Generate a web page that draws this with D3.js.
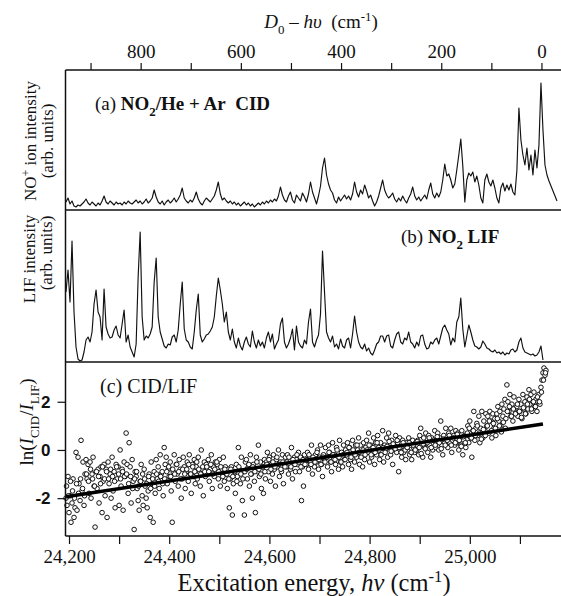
<!DOCTYPE html>
<html>
<head>
<meta charset="utf-8">
<script src="https://cdn.jsdelivr.net/npm/d3@7"></script>
<style>
  body { margin: 0; background: #fff; }
  svg { display: block; }
  text { font-family: "Liberation Serif", "Times New Roman", serif; fill: #111; }
</style>
</head>
<body>
<svg id="chart" width="561" height="596"></svg>
<script>
// dissociation limit, cm-1 (top axis is D0 - hv)
const D0 = 25143;

// (a) NO+ ion signal from CID, sampled every 4 cm-1 from 24194 cm-1
const cidStart = 24194, cidStep = 4;
const cid = [
  8,12,6,9,4,3,5,4,6,8, 11,7,5,8,6,4,7,5,9,14, 8,6,9,7,5,8,6,7,5,8, 6,9,7,
  6,8,10,7,9,6,8,11,7,9, 12,20,13,8,6,9,5,8,10,7, 9,12,8,11,15,22,12,9,7,10, 8,12,18,11,7,5,9,12,10,8, 11,14,20,28,16,10,12,9,
  7,9,6,8,5,7,4,6,8,5, 7,4,6,3,5,7,5,8,6,9, 7,10,8,11,9,14,23,15,10,8, 14,18,10,7,15,12,9,17,13,8, 16,28,18,12,6,14,24,42,52,35, 26,20,
  17,10,7,13,9,12,15,11,14,10, 16,28,18,13,20,16,25,19,12,15, 9,4,8,14,22,30,20,15,12,
  14,17,11,8,12,9,14,10,7,12, 16,23,14,10,13,9,12,15,11,20, 27,16,12,17,13,18,30,46,34,36, 30,22,26,40,55,71,44,8,30,37,
  34,38,28,34,25,12,7,30,36,28, 24,30,22,12,7,22,27,19,25,20, 26,18,15,
  40,102,70,55,45,62,40,55,35,60, 42,65,127,80,45,35,29,24,19,14, 9
];

// (b) LIF signal, sampled every 4 cm-1 from 24194 cm-1
const lifStart = 24194, lifStep = 4;
const lif = [
  70,92,60,121,50,15,3,1,2,10,
  22,25,20,30,58,72,50,45,22,73,
  35,28,24,25,32,36,27,24,38,52,
  20,27,15,10,5,18,85,130,45,22,
  26,24,28,35,80,104,45,30,23,16,
  14,18,17,25,27,20,32,58,80,33,
  22,20,15,13,30,52,68,27,20,23,
  27,28,31,35,45,66,84,72,58,40,
  50,30,22,33,20,14,24,16,12,20,
  25,18,15,31,20,14,22,16,20,14,
  24,30,20,28,13,18,22,38,44,20,
  14,18,24,33,12,36,20,16,14,22,
  18,40,53,20,15,22,27,48,111,70,
  30,24,20,26,15,18,13,23,16,14,
  22,24,14,28,46,30,20,15,13,18,
  11,14,9,7,12,18,20,26,26,20,
  26,27,16,14,22,28,30,20,18,24,
  22,30,20,18,14,20,16,26,27,18,
  13,14,20,18,22,24,18,26,34,37,
  32,28,17,24,20,40,45,64,33,15,
  26,37,30,22,16,15,13,15,21,18,
  14,13,11,10,12,9,10,8,10,7,
  9,8,12,13,10,12,20,24,14,10,
  9,8,7,8,6,7,10,16,2
];

// (c) ln(I_CID / I_LIF), one point every 2 cm-1 from 24194 cm-1
const ratioStart = 24194, ratioStep = 2;
const ratio = [
  -2.0,-2.3,-1.1,-2.6,-1.9,-3.0,-2.2,-1.2,-2.8,-2.4,
  -0.1,-2.5,-0.3,-1.4,-2.1,0.4,-1.7,-0.5,-2.3,-1.0,
  -0.4,-1.2,-0.6,-1.8,-0.5,-2.0,-1.0,-0.3,-1.5,-3.2,
  -0.9,-1.6,-0.8,-2.2,-1.1,-0.7,-2.6,-1.3,-0.6,-1.9,
  -0.8,-2.8,-0.5,-1.4,-1.0,-2.0,-0.3,-1.7,-0.9,-2.4,
  -0.6,-1.2,-0.7,-2.3,0.0,-1.5,-0.8,-2.5,-0.5,-1.1,
  0.7,-0.6,-1.8,0.3,-0.7,-2.2,-0.4,-1.3,-3.3,-0.9,
  -1.1,-1.6,-2.1,-2.5,-1.3,-0.6,-1.9,-2.3,-0.8,-1.5,
  -2.0,-2.4,-1.7,-1.0,-2.8,-0.5,-1.4,-3.0,-0.9,-1.8,
  -0.4,-1.2,-0.7,-1.6,-0.2,-1.0,-0.9,-1.9,0.1,-0.6,
  -0.3,-1.4,-0.8,-1.1,-0.5,-1.7,-3.0,-0.9,-0.2,-1.3,
  -0.6,-1.0,-1.5,-0.4,-0.8,-2.0,-1.2,-0.3,-0.7,-1.6,
  -0.9,-0.5,-1.3,-0.2,-1.0,-1.8,-0.6,-1.1,-0.4,-1.4,
  -0.7,-1.2,-0.3,-0.9,-1.5,0.0,-0.8,-1.9,-0.5,-1.1,
  -0.6,-1.0,-0.4,-1.3,-0.8,-0.2,-1.6,-0.7,-1.1,-0.5,
  -0.9,-0.6,-1.2,-0.4,-1.5,-0.8,-1.0,-0.3,-1.3,-0.7,
  -1.0,-1.6,-0.8,-2.4,-1.2,-0.7,-2.7,-1.4,-0.9,-1.8,
  -0.6,-1.1,0.1,-0.8,-1.4,-0.3,-2.1,-0.9,-2.7,-0.5,
  -0.4,-1.2,-0.7,-1.5,-0.2,-1.0,-2.0,-0.6,-1.3,-2.6,
  -0.3,-0.9,0.2,-1.1,-0.5,-1.6,-0.7,-1.8,-0.4,-1.2,
  -0.5,-0.1,-0.9,-0.3,-1.3,-0.6,-1.0,-0.2,-0.8,-1.5,
  -0.4,-0.7,0.0,-1.1,-0.5,-0.9,-0.2,-1.4,-0.6,-0.3,
  -0.7,-0.2,-1.0,-0.4,-0.8,0.1,-1.2,-0.5,-0.3,-0.9,
  -0.4,-0.6,-0.1,-0.9,-0.3,-2.1,-0.7,-1.5,-0.2,-0.5,
  -0.6,-0.1,-0.8,-0.3,-0.5,0.2,-1.0,-0.4,-0.7,-0.2,
  -0.5,0.0,-0.8,-0.3,0.2,-0.6,-1.1,-0.2,-0.4,0.1,
  -0.3,-0.7,0.2,-0.1,-0.5,-0.9,0.3,-0.4,-0.2,-0.6,
  0.1,-0.3,-0.8,0.4,-0.5,-0.1,-0.7,0.2,-0.4,0.0,
  -0.2,0.3,-0.6,0.1,-0.4,-0.8,0.4,-0.1,-0.5,0.2,
  -0.3,0.0,0.5,-0.6,0.2,-0.2,-0.7,0.3,-0.4,0.1,
  0.4,-0.1,0.7,-0.5,0.2,-0.3,0.0,0.5,-0.6,0.3,
  -0.2,0.6,0.1,-0.4,0.3,-0.1,0.8,-0.5,0.2,0.0,
  0.5,-0.3,0.7,0.1,-0.2,0.4,-0.6,0.2,0.0,0.6,
  -0.1,0.3,-0.9,0.5,0.1,-0.3,0.4,-0.1,0.2,-0.4,
  0.3,0.0,0.5,-0.2,0.2,-0.4,0.4,0.1,-0.1,0.3,
  0.0,0.4,-0.2,0.6,0.9,0.2,-0.3,0.5,0.1,0.7,
  0.3,-0.1,0.6,0.2,-0.3,0.5,0.0,0.4,0.8,0.1,
  0.4,0.7,0.0,0.5,1.2,0.2,-0.2,0.6,0.3,0.9,
  0.5,0.1,0.7,0.3,0.9,-0.1,0.4,0.6,0.2,0.8,
  0.3,0.7,0.0,0.5,0.2,0.8,-0.2,0.4,0.6,0.1,
  0.6,1.0,0.3,1.2,0.5,-0.3,0.8,1.6,0.4,0.9,
  1.1,0.6,1.4,0.3,0.9,1.6,0.5,1.2,0.8,1.5,
  1.0,1.4,0.7,1.6,1.2,0.5,1.5,0.9,1.3,0.6,
  1.5,1.8,1.2,1.6,1.0,1.9,1.4,1.7,2.1,1.3,
  2.7,2.0,1.6,2.3,1.4,1.9,1.2,2.2,1.7,1.5,
  1.8,1.4,2.1,1.6,1.9,1.3,2.3,1.7,2.0,1.5,
  2.2,1.7,2.5,1.9,2.3,1.6,2.0,2.4,1.8,2.1,
  1.6,2.0,2.3,1.9,2.6,2.9,3.2,3.4,3.1,3.3
];

// the dense core of the ratio band, one point every 4 cm-1 from 24195 cm-1
const coreStart = 24195, coreStep = 4;
const ratioCore = [
  -1.5,-1.9,-1.3,-1.7,-2.0,-1.4,-1.8,-1.2,-1.6,-1.9,
  -1.0,-1.3,-0.8,-1.2,-1.5,-0.9,-1.1,-1.4,-0.7,-1.2,
  -0.9,-1.2,-0.8,-1.1,-1.3,-0.7,-1.0,-1.2,-0.9,-1.1,
  -1.0,-1.4,-1.1,-1.6,-1.2,-0.9,-1.5,-1.3,-1.0,-1.2,
  -1.4,-1.1,-1.6,-1.2,-1.5,-1.0,-1.3,-1.1,-1.4,-1.2,
  -0.9,-0.7,-1.1,-0.8,-1.0,-0.6,-0.9,-1.2,-0.8,-1.0,
  -0.8,-0.6,-1.0,-0.7,-0.9,-0.5,-0.8,-1.0,-0.7,-0.9,
  -0.7,-0.9,-0.6,-1.0,-0.8,-0.5,-0.9,-0.7,-1.1,-0.8,
  -1.0,-1.2,-0.8,-1.1,-0.9,-1.3,-0.7,-1.0,-1.2,-0.9,
  -0.8,-0.6,-1.0,-0.7,-0.9,-0.5,-0.8,-1.0,-0.7,-0.9,
  -0.6,-0.4,-0.8,-0.5,-0.7,-0.3,-0.6,-0.8,-0.5,-0.7,
  -0.5,-0.3,-0.7,-0.4,-0.6,-0.2,-0.5,-0.7,-0.4,-0.6,
  -0.4,-0.2,-0.6,-0.3,-0.5,-0.1,-0.4,-0.6,-0.3,-0.5,
  -0.3,-0.1,-0.5,-0.2,-0.4,0.0,-0.3,-0.5,-0.2,-0.4,
  -0.1,0.1,-0.3,0.0,-0.2,0.2,-0.1,-0.3,0.0,-0.2,
  0.0,0.2,-0.2,0.1,-0.1,0.3,0.0,-0.2,0.1,-0.1,
  0.15,0.35,-0.05,0.25,0.05,0.4,0.1,-0.1,0.3,0.0,
  0.1,0.3,-0.1,0.2,0.0,0.35,0.1,-0.15,0.25,0.05,
  0.3,0.5,0.1,0.4,0.2,0.55,0.3,0.05,0.45,0.2,
  0.4,0.6,0.2,0.5,0.3,0.65,0.4,0.15,0.55,0.3,
  0.7,0.9,0.5,0.8,0.6,1.0,0.7,0.45,0.85,0.6,
  1.0,1.2,0.8,1.1,0.9,1.3,1.0,0.75,1.15,0.9,
  1.6,1.8,1.4,1.7,1.5,1.9,1.6,1.35,1.75,1.5,
  1.9,2.1,1.7,2.0,1.8,2.2,2.0,2.4,2.9,3.2
];

// linear fit through the ratio
const fitEnergy = [24194, 25146];
const fitRatio = [-1.94, 1.08];

// ticks
const energyLabelled = [24200, 24400, 24600, 24800, 25000];
const energyMinor = [24300, 24500, 24700, 24900, 25100];
const topLabelled = [0, 200, 400, 600, 800];
const topMinor = [100, 300, 500, 700, 900];
const ratioTicks = [-2, 0, 2];

const svg = d3.select('#chart');

const plotLeft = 65.5, plotRight = 561;
const yTopLine = 70, ySepAB = 210, ySepBC = 362, yBottomLine = 536;

const x = d3.scaleLinear().domain([24193, 25182]).range([plotLeft, plotRight]);
const xTop = d3.scaleLinear().domain([D0 - 24193, D0 - 25182]).range([plotLeft, plotRight]);
const yA = d3.scaleLinear().domain([0, 140]).range([ySepAB, yTopLine]);
const yB = d3.scaleLinear().domain([0, 152]).range([ySepBC, ySepAB]);
const yC = d3.scaleLinear().domain([-3.57, 3.65]).range([yBottomLine, ySepBC]);

// rich text helper: parts = [{t, i, b, sub, sup}]
function rich(g, parts, size) {
  const t = g.append('text').attr('font-size', size);
  let shift = 0;
  parts.forEach(p => {
    let target = 0;
    if (p.sub) target = size * 0.3;
    if (p.sup) target = -size * 0.38;
    const s = t.append('tspan').text(p.t).attr('dy', target - shift);
    shift = target;
    if (p.sub || p.sup) s.attr('font-size', size * 0.68);
    if (p.i) s.attr('font-style', 'italic');
    if (p.b) s.attr('font-weight', 'bold');
  });
  return t;
}

// traces
const lineA = d3.line().x((d, i) => x(cidStart + i * cidStep)).y(d => yA(d));
const lineB = d3.line().x((d, i) => x(lifStart + i * lifStep)).y(d => yB(d));

svg.append('path').datum(cid).attr('d', lineA)
  .attr('fill', 'none').attr('stroke', '#111').attr('stroke-width', 1.15).attr('stroke-linejoin', 'round');
svg.append('path').datum(lif).attr('d', lineB)
  .attr('fill', 'none').attr('stroke', '#111').attr('stroke-width', 1.15).attr('stroke-linejoin', 'round');

// scatter + fit
const pts = ratio.map((v, i) => ({e: ratioStart + i * ratioStep, v}))
  .concat(ratioCore.map((v, i) => ({e: coreStart + i * coreStep, v})));

svg.append('g').selectAll('circle').data(pts).join('circle')
  .attr('cx', d => x(d.e))
  .attr('cy', d => yC(d.v))
  .attr('r', 2.3)
  .attr('fill', '#fff').attr('stroke', '#111').attr('stroke-width', 1);

svg.append('line')
  .attr('x1', x(fitEnergy[0])).attr('x2', x(fitEnergy[1]))
  .attr('y1', yC(fitRatio[0])).attr('y2', yC(fitRatio[1]))
  .attr('stroke', '#000').attr('stroke-width', 3.5);

// frame lines
const frame = svg.append('g').attr('stroke', '#111').attr('stroke-width', 1.5);
[yTopLine, ySepAB, ySepBC, yBottomLine].forEach(yy => {
  frame.append('line').attr('x1', plotLeft).attr('x2', plotRight).attr('y1', yy).attr('y2', yy);
});
frame.append('line').attr('x1', plotLeft).attr('x2', plotLeft).attr('y1', yTopLine).attr('y2', yBottomLine);

// axes
function styleAxis(g, size, family) {
  g.select('.domain').remove();
  g.selectAll('.tick line').attr('stroke', '#111').attr('stroke-width', 1.2);
  g.selectAll('.tick text').attr('font-size', size).attr('fill', '#111')
    .style('font-family', family);
}

const topAxis = svg.append('g').attr('transform', `translate(0,${yTopLine})`)
  .call(d3.axisTop(xTop).tickValues(topLabelled.concat(topMinor)).tickSize(7).tickPadding(5)
    .tickFormat(d => topLabelled.includes(d) ? d : ''));
styleAxis(topAxis, 19, '"Liberation Serif", serif');

const bottomAxis = svg.append('g').attr('transform', `translate(0,${yBottomLine})`)
  .call(d3.axisBottom(x).tickValues(energyLabelled.concat(energyMinor)).tickSize(8).tickPadding(6)
    .tickFormat(d => energyLabelled.includes(d) ? d3.format(',')(d) : ''));
styleAxis(bottomAxis, 19, '"Liberation Serif", serif');

const leftAxis = svg.append('g').attr('transform', `translate(${plotLeft},0)`)
  .call(d3.axisLeft(yC).tickValues(ratioTicks).tickSize(8).tickPadding(7).tickFormat(d => String(d)));
styleAxis(leftAxis, 17, '"Liberation Sans", Arial, sans-serif');
leftAxis.selectAll('.tick text').attr('font-weight', 'bold');

// axis titles
rich(svg.append('g').attr('transform', 'translate(321,28)'), [
  {t: 'D', i: true}, {t: '0', sub: true}, {t: ' – '}, {t: 'hυ', i: true},
  {t: '\u00a0 (cm'}, {t: '-1', sup: true}, {t: ')'}
], 19).attr('text-anchor', 'middle');

rich(svg.append('g').attr('transform', 'translate(314,591)'), [
  {t: 'Excitation energy, '}, {t: 'hν', i: true}, {t: ' (cm'}, {t: '-1', sup: true}, {t: ')'}
], 24.5).attr('text-anchor', 'middle');

rich(svg.append('g').attr('transform', 'translate(36,141) rotate(-90)'), [
  {t: 'NO'}, {t: '+', sup: true}, {t: ' ion intensity'}
], 17).attr('text-anchor', 'middle');
rich(svg.append('g').attr('transform', 'translate(53,141) rotate(-90)'), [
  {t: '(arb. units)'}
], 17).attr('text-anchor', 'middle');

rich(svg.append('g').attr('transform', 'translate(35,259) rotate(-90)'), [
  {t: 'LIF intensity'}
], 17).attr('text-anchor', 'middle');
rich(svg.append('g').attr('transform', 'translate(52,253) rotate(-90)'), [
  {t: '(arb. units)'}
], 17).attr('text-anchor', 'middle');

rich(svg.append('g').attr('transform', 'translate(33,422) rotate(-90)'), [
  {t: 'ln('}, {t: 'I', i: true}, {t: 'CID', sub: true}, {t: '/'}, {t: 'I', i: true}, {t: 'LIF', sub: true}, {t: ')'}
], 19).attr('text-anchor', 'middle');

// panel labels
rich(svg.append('g').attr('transform', 'translate(95,110)'), [
  {t: '(a) '}, {t: 'NO', b: true}, {t: '2', sub: true, b: true}, {t: '/He + Ar\u00a0 CID', b: true}
], 19);
rich(svg.append('g').attr('transform', 'translate(401,243)'), [
  {t: '(b) '}, {t: 'NO', b: true}, {t: '2', sub: true, b: true}, {t: ' LIF', b: true}
], 19);
rich(svg.append('g').attr('transform', 'translate(100,393)'), [
  {t: '(c) CID/LIF'}
], 20);
</script>
</body>
</html>
